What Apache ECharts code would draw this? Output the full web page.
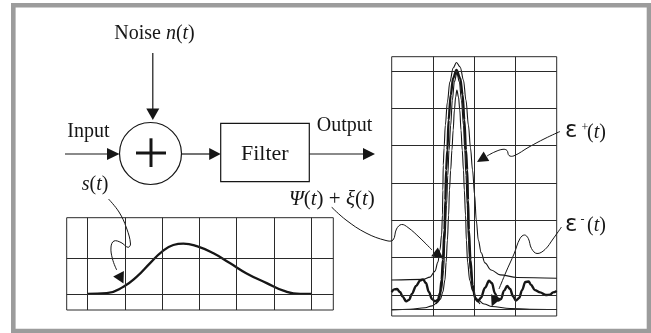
<!DOCTYPE html>
<html>
<head>
<meta charset="utf-8">
<script src="https://cdn.jsdelivr.net/npm/echarts@6/dist/echarts.min.js"></script>
<style>
  html, body { margin: 0; background: #fff; }
  #chart { width: 651px; height: 333px; }
</style>
</head>
<body>
<div id="chart"></div>
<script>
// input pulse s(t), grid divisions
const sX = [0, 0.51, 0.96, 1.32, 1.67, 1.99, 2.3, 2.57, 2.93, 3.38, 3.83, 4.27, 4.81, 5.26, 5.71, 6.02];
const sY = [0.01, 0.03, 0.21, 0.49, 0.86, 1.18, 1.37, 1.41, 1.34, 1.14, 0.86, 0.58, 0.31, 0.1, 0.01, 0.01];

// filter output: upper envelope eps+(t)
const epsPlusX = [0, 0.76, 0.93, 1.05, 1.12, 1.17, 1.21, 1.23, 1.24, 1.25, 1.27, 1.3, 1.35, 1.41, 1.49, 1.57,
  1.66, 1.74, 1.8, 1.86, 1.91, 1.96, 2.01, 2.05, 2.1, 2.17, 2.26, 2.41, 2.63, 3.04, 4.0];
const epsPlusY = [0.4, 0.42, 0.48, 0.64, 0.88, 1.21, 1.61, 2.14, 2.81, 3.48, 3.94, 4.55, 5.17, 5.71, 6.08, 6.23,
  6.11, 5.76, 5.22, 4.55, 3.94, 3.35, 2.68, 2.01, 1.47, 1.13, 0.86, 0.67, 0.54, 0.47, 0.45];

// clean output psi(t)
const psiX = [1.07, 1.15, 1.21, 1.26, 1.29, 1.33, 1.36, 1.39, 1.43, 1.47, 1.52, 1.58,
  1.64, 1.69, 1.74, 1.77, 1.8, 1.83, 1.86, 1.9, 1.96, 2.04, 2.14];
const psiY = [-0.24, -0.13, 0.13, 0.67, 1.47, 2.41, 3.21, 3.88, 4.55, 5.22, 5.71, 5.95,
  5.71, 5.22, 4.55, 3.88, 3.21, 2.41, 1.47, 0.67, 0.13, -0.13, -0.24];

// noisy output psi(t) + xi(t)
const noisyX = [0, 0.06, 0.13, 0.2, 0.27, 0.35, 0.42, 0.49, 0.59, 0.69, 0.76, 0.83, 0.9, 0.98, 1.05, 1.12, 1.17,
  1.21, 1.24, 1.28, 1.3, 1.32, 1.35, 1.38, 1.43, 1.49, 1.57, 1.66, 1.72, 1.76, 1.8, 1.83, 1.85, 1.87, 1.91,
  1.96, 2.02, 2.09, 2.16, 2.26, 2.36, 2.43, 2.5, 2.58, 2.65, 2.72, 2.8, 2.87, 2.94, 3.01, 3.09, 3.16, 3.24,
  3.32, 3.38, 3.47, 3.6, 3.74, 3.84, 3.91, 4.0];
const noisyY = [0.08, 0.15, 0.16, 0.08, -0.05, -0.17, -0.13, 0.03, 0.24, 0.39, 0.42, 0.32, 0.08, -0.11, -0.17, -0.13, 0.05,
  0.4, 0.94, 1.74, 2.54, 3.35, 3.88, 4.69, 5.36, 5.81, 6.03, 5.81, 5.36, 4.69, 3.88, 3.35, 2.54, 1.74, 0.94,
  0.27, -0.08, -0.17, -0.08, 0.19, 0.38, 0.32, 0.05, -0.15, -0.11, 0.11, 0.24, 0.16, -0.03, -0.15, -0.08, 0.13, 0.35,
  0.36, 0.27, 0.13, 0.07, 0, 0.01, 0.07, 0.11];

// lower envelope eps-(t)
const epsMinusX = [0, 0.44, 0.81, 0.98, 1.1, 1.18, 1.24, 1.29, 1.32, 1.35, 1.38, 1.4, 1.43, 1.46, 1.49, 1.52, 1.55, 1.58,
  1.62, 1.65, 1.68, 1.71, 1.74, 1.76, 1.79, 1.81, 1.84, 1.89, 1.96, 2.07, 2.24, 2.43, 2.87, 3.35, 4.0];
const epsMinusY = [-0.4, -0.38, -0.34, -0.29, -0.21, -0.11, 0.08, 0.4, 0.88, 1.47, 2.14, 2.81, 3.35, 3.88, 4.42, 4.96, 5.3, 5.49,
  5.3, 4.96, 4.42, 3.88, 3.35, 2.81, 2.14, 1.47, 0.88, 0.4, 0.12, -0.11, -0.24, -0.31, -0.36, -0.38, -0.39];

// scope graticules
const leftGridX = [0, 1, 2, 3, 4, 5, 6];
const leftGridY = [0, 1];
const rightGridX = [1, 2, 3];
const rightGridY = [-0.38, 0, 1, 2, 3, 4, 5, 6];

const ink = '#161616';
const serif = "'Liberation Serif', 'Times New Roman', serif";

const zip = (xs, ys) => xs.map((x, i) => [x, ys[i]]);

function gridLines(xs, ys) {
  return {
    silent: true,
    symbol: ['none', 'none'],
    label: { show: false },
    emphasis: { disabled: true },
    animation: false,
    lineStyle: { color: '#2a2a2a', width: 1, type: 'solid' },
    data: xs.map((v) => ({ xAxis: v })).concat(ys.map((v) => ({ yAxis: v }))),
  };
}

function curve(name, xs, ys, idx, width, extra) {
  return Object.assign({
    name: name,
    type: 'line',
    xAxisIndex: idx,
    yAxisIndex: idx,
    data: zip(xs, ys),
    symbol: 'none',
    smooth: 0.35,
    smoothMonotone: 'x',
    lineStyle: { color: ink, width: width },
    silent: true,
  }, extra || {});
}

// arrow head as a filled triangle, tip at (tx,ty), coming from (fx,fy)
function head(tx, ty, fx, fy, len, half) {
  const dx = tx - fx, dy = ty - fy;
  const d = Math.hypot(dx, dy);
  const ux = dx / d, uy = dy / d;
  const bx = tx - ux * len, by = ty - uy * len;
  return {
    type: 'polygon',
    silent: true,
    shape: { points: [[tx, ty], [bx - uy * half, by + ux * half], [bx + uy * half, by - ux * half]] },
    style: { fill: ink },
  };
}

function seg(x1, y1, x2, y2, w) {
  return { type: 'line', silent: true, shape: { x1, y1, x2, y2 }, style: { stroke: ink, lineWidth: w || 1.2 } };
}

function leader(points) {
  return { type: 'polyline', silent: true, shape: { points: points, smooth: 0.4 }, style: { stroke: ink, lineWidth: 1, fill: null } };
}

const rich = {
  r: { fontFamily: serif, fontSize: 20, fill: ink, color: ink },
  i: { fontFamily: serif, fontSize: 20, fontStyle: 'italic', fill: ink, color: ink },
  R: { fontFamily: serif, fontSize: 21, fill: ink, color: ink },
  I: { fontFamily: serif, fontSize: 21, fontStyle: 'italic', fill: ink, color: ink },
  g: { fontFamily: "'DejaVu Sans', sans-serif", fontSize: 23, fill: ink, color: ink },
};

function txt(x, y, text, align) {
  return {
    type: 'text', x: x, y: y, silent: true,
    style: {
      text: text, rich: rich, fill: ink, fontFamily: serif, fontSize: 20,
      align: align || 'left', textAlign: align || 'left', verticalAlign: 'middle', textVerticalAlign: 'middle',
    },
  };
}

function small(x, y, text) {
  return {
    type: 'text', x: x, y: y, silent: true,
    style: { text: text, fill: ink, fontFamily: serif, fontSize: 12, align: 'left', textAlign: 'left', verticalAlign: 'middle', textVerticalAlign: 'middle' },
  };
}

let myChart = echarts.init(document.getElementById('chart'));
let option = {
  animation: false,
  backgroundColor: '#fff',
  grid: [
    { left: 66.7, top: 217.7, width: 266.6, height: 92.3, show: true, borderColor: '#2a2a2a', borderWidth: 1 },
    { left: 391.7, top: 56.7, width: 165, height: 259.3, show: true, borderColor: '#2a2a2a', borderWidth: 1 },
  ],
  xAxis: [
    { type: 'value', gridIndex: 0, min: -0.565, max: 6.6, show: false },
    { type: 'value', gridIndex: 1, min: 0, max: 4, show: false },
  ],
  yAxis: [
    { type: 'value', gridIndex: 0, min: -0.436, max: 2.128, show: false },
    { type: 'value', gridIndex: 1, min: -0.5625, max: 6.384, show: false },
  ],
  series: [
    curve('s(t)', sX, sY, 0, 2.3, { smooth: 0.5, smoothMonotone: null, markLine: gridLines(leftGridX, leftGridY) }),
    curve('ε+(t)', epsPlusX, epsPlusY, 1, 1.1, { markLine: gridLines(rightGridX, rightGridY) }),
    curve('ψ(t)', psiX, psiY, 1, 1.1),
    curve('ε-(t)', epsMinusX, epsMinusY, 1, 1.1),
    curve('ψ(t)+ξ(t)', noisyX, noisyY, 1, 2.4),
  ],
  graphic: [
    // outer frame
    { type: 'rect', silent: true, shape: { x: 13.3, y: 5.3, width: 635.7, height: 325.7 },
      style: { fill: null, stroke: '#9c9c9c', lineWidth: 4.6 } },

    // block diagram
    txt(154.5, 33.3, '{r|Noise }{i|n}{r|(}{i|t}{r|)}', 'center'),
    seg(152.8, 53, 152.8, 110),
    head(152.8, 120, 152.8, 100, 11.5, 6.5),
    { type: 'circle', silent: true, shape: { cx: 150.5, cy: 153.5, r: 31 }, style: { fill: null, stroke: ink, lineWidth: 1.2 } },
    seg(136, 153, 166, 153, 3),
    seg(151, 138.3, 151, 167, 3),
    txt(67.3, 131.5, '{r|Input}'),
    seg(65, 154, 110, 154),
    head(119.5, 154, 100, 154, 12.5, 6),
    seg(181.5, 154, 212, 154),
    head(220.7, 154, 200, 154, 11.5, 6),
    { type: 'rect', silent: true, shape: { x: 220.7, y: 123.3, width: 88.6, height: 58.4 }, style: { fill: null, stroke: ink, lineWidth: 1.2 } },
    { type: 'text', x: 264.8, y: 154, silent: true,
      style: { text: 'Filter', fill: ink, fontFamily: serif, fontSize: 22, align: 'center', textAlign: 'center', verticalAlign: 'middle', textVerticalAlign: 'middle' } },
    seg(309.3, 154, 366, 154),
    head(375, 154, 350, 154, 12, 6),
    txt(316.7, 126, '{r|Output}'),

    // s(t) label and leader
    txt(81.7, 185, '{i|s}{r|(}{i|t}{r|)}'),
    leader([[108.5, 199], [119, 212], [126.5, 228], [130.5, 244], [128, 247.3], [121, 242.5], [114, 241],
      [111, 247], [112.5, 259], [116.7, 270]]),
    head(123.5, 283.5, 116.7, 270, 11, 6),

    // psi + xi label and leader
    txt(289, 199, '{I|Ψ}{R|(}{I|t}{R|) + }{I|ξ}{R|(}{I|t}{R|)}'),
    leader([[331.5, 207], [346, 220], [366, 233], [386, 240.5], [393, 240], [396.5, 229], [401.5, 224.5],
      [408, 227.5], [420, 238], [432, 250]]),
    head(443.3, 258.5, 434, 251.5, 11, 5.5),

    // eps+ label and leader
    txt(565, 131.3, '{g|ε}'),
    small(581.5, 127.5, '+'),
    txt(587, 132.5, '{r|(}{i|t}{r|)}'),
    leader([[560, 131.5], [545, 138.5], [529, 147], [514, 155.8], [509, 155.5], [507, 150.5], [503, 149.3],
      [495, 151.8], [487, 156]]),
    head(477, 162, 487, 156, 11, 5.5),

    // eps- label and leader
    txt(565, 224.7, '{g|ε}'),
    small(580.5, 219.5, '-'),
    txt(587, 226, '{r|(}{i|t}{r|)}'),
    leader([[561.5, 227], [553, 239], [545, 249.5], [537, 253.5], [531.5, 248.5], [528.3, 238.5], [524.5, 235],
      [520, 238.5], [514, 254], [506, 272], [499, 289]]),
    head(491.7, 306.5, 498, 292, 11, 5.5),
  ],
};
option && myChart.setOption(option);
window.addEventListener('resize', () => {
  myChart.resize();
});
</script>
</body>
</html>
